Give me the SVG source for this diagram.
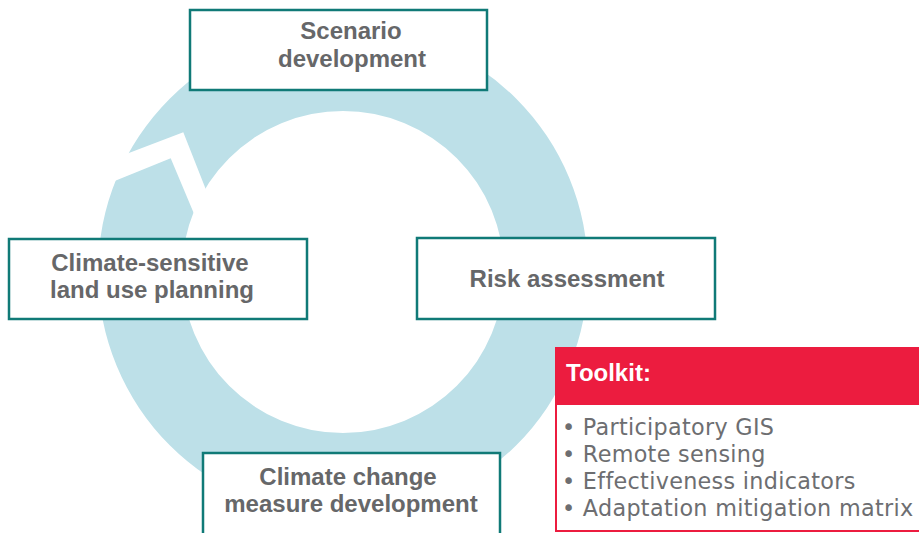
<svg xmlns="http://www.w3.org/2000/svg" width="919" height="533" viewBox="0 0 919 533">
<style>
.box{fill:#ffffff;stroke:#107a77;stroke-width:2.5}
.lbl{font-family:"Liberation Sans",Arial,sans-serif;font-weight:bold;font-size:24px;fill:#666769;text-anchor:middle}
.item{font-family:"DejaVu Sans","Liberation Sans",sans-serif;font-size:22.3px;letter-spacing:0.3px;fill:#6d6e71}
</style>
<rect width="919" height="533" fill="#ffffff"/>
<g id="connectors">
<path d="M98,272a245,245 0 1,0 490,0a245,245 0 1,0 -490,0Z M182,272a161,161 0 1,0 322,0a161,161 0 1,0 -322,0Z" fill="#bde0e8" fill-rule="evenodd"/>
<polygon points="100,164 183.3,132.3 212,205 200,228 170.7,158.3 90,191" fill="#ffffff"/>
</g>
<g id="scenario">
<rect class="box" x="190" y="10" width="297" height="80"/>
<text class="lbl" x="351" y="39">Scenario</text>
<text class="lbl" x="352" y="66.5">development</text>
</g>
<g id="risk">
<rect class="box" x="417" y="238" width="298" height="81"/>
<text class="lbl" x="567" y="286.5">Risk assessment</text>
</g>
<g id="landuse">
<rect class="box" x="9" y="239" width="298" height="80"/>
<text class="lbl" x="150" y="271">Climate-sensitive</text>
<text class="lbl" x="152" y="298">land use planning</text>
</g>
<g id="measure">
<rect class="box" x="203" y="453" width="297" height="100"/>
<text class="lbl" x="348" y="485">Climate change</text>
<text class="lbl" x="351" y="511.5">measure development</text>
</g>
<g id="toolkit">
<rect x="556" y="348" width="400" height="183" fill="#ffffff" stroke="#ec1c3f" stroke-width="2"/>
<rect x="556" y="348" width="400" height="57" fill="#ec1c3f"/>
<text x="566" y="380.5" font-family="'Liberation Sans',Arial,sans-serif" font-weight="bold" font-size="24" fill="#ffffff">Toolkit:</text>
<text class="item" x="562" y="435">• Participatory GIS</text>
<text class="item" x="562" y="462">• Remote sensing</text>
<text class="item" x="562" y="489">• Effectiveness indicators</text>
<text class="item" x="562" y="515.5">• Adaptation mitigation matrix</text>
</g>
</svg>
